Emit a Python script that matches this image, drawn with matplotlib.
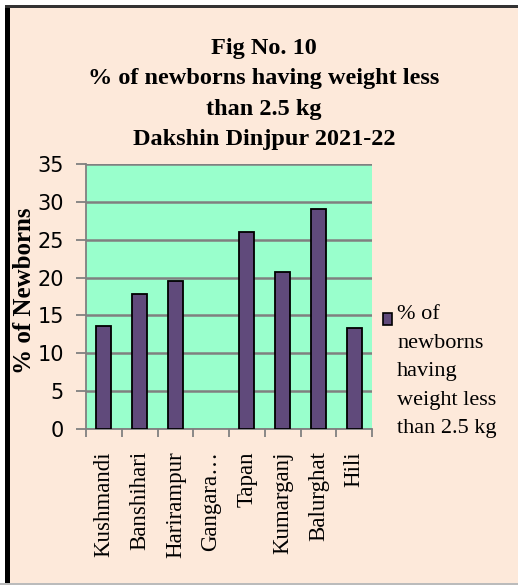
import matplotlib.pyplot as plt
from matplotlib.patches import Rectangle

blocks = ["Kushmandi", "Banshihari", "Harirampur", "Gangara\u2026", "Tapan",
          "Kumarganj", "Balurghat", "Hili"]
pct_low_weight = [13.6, 17.8, 19.5, 0, 26.0, 20.8, 29.0, 13.3]
series_name = "% of\nnewborns\nhaving\nweight less\nthan 2.5 kg"
title_text = "Fig No. 10\n% of newborns having weight less\nthan 2.5 kg\nDakshin Dinjpur 2021-22"

plt.rcParams['font.family'] = ['Liberation Serif', 'DejaVu Serif']

bar_color = "#604A7B"

fig = plt.figure(figsize=(5.18, 5.85), dpi=100)
fig.patch.set_facecolor("#FDE9DA")

# frame lines around the picture
fig.patches.append(Rectangle((0.0, 0.0), 0.0193, 1.0, transform=fig.transFigure,
                             facecolor="white", edgecolor="none", zorder=0))
fig.patches.append(Rectangle((0.0097, 0.0), 0.0097, 0.991, transform=fig.transFigure,
                             facecolor="black", edgecolor="none", zorder=1))
fig.patches.append(Rectangle((0.0, 0.988), 1.0, 0.012, transform=fig.transFigure,
                             facecolor="white", edgecolor="none", zorder=0))
fig.patches.append(Rectangle((0.0097, 0.987), 0.9903, 0.004, transform=fig.transFigure,
                             facecolor="#333333", edgecolor="none", zorder=1))
fig.patches.append(Rectangle((0.0, 0.0), 1.0, 0.004, transform=fig.transFigure,
                             facecolor="#BBBBBB", edgecolor="none", zorder=1))

ax = fig.add_axes([86/518, 1 - 429/585, (372 - 86)/518, (429 - 164)/585])
ax.set_facecolor("#99FFCC")

x = range(len(blocks))
edges = ["black" if v > 0 else "none" for v in pct_low_weight]
bars = ax.bar(x, pct_low_weight, width=0.42, color=bar_color, edgecolor=edges,
              linewidth=1.3, zorder=3)

ax.set_ylim(0, 35)
ax.set_xlim(-0.5, len(blocks) - 0.5)
ax.set_yticks(range(0, 36, 5))
ax.yaxis.grid(True, color="#808080", linewidth=1.8, zorder=1)
ax.set_axisbelow(True)

ax.set_xticks([i - 0.5 for i in range(len(blocks) + 1)], minor=False)
ax.set_xticklabels([])
ax.set_xticks(list(x), minor=True)
ax.set_xticklabels(blocks, minor=True, rotation=90, fontsize=16.5, va="top")
ax.tick_params(axis="x", which="minor", length=0, pad=16)
ax.tick_params(axis="x", which="major", length=6, color="#808080", width=1.3)
ax.tick_params(axis="y", length=7, color="#808080", width=1.3, pad=9)
for lab in ax.get_yticklabels():
    lab.set_fontfamily("DejaVu Sans")
    lab.set_fontsize(15)

for side in ["top", "right"]:
    ax.spines[side].set_visible(False)
ax.spines["left"].set_color("#808080")
ax.spines["bottom"].set_color("#808080")
ax.spines["left"].set_linewidth(1.3)
ax.spines["bottom"].set_linewidth(1.3)

ax.set_ylabel("% of Newborns", fontsize=18, fontweight="bold")
ax.yaxis.set_label_coords(-(86 - 36)/286, 0.52)

fig.text(0.51, 1 - 150/585, title_text, ha="center", va="bottom", fontsize=17.5,
         fontweight="bold", linespacing=1.58)

# legend drawn by hand so the key sits beside the first line
fig.patches.append(Rectangle((383/518, 1 - 325/585), 9/518, 12/585,
                             transform=fig.transFigure, facecolor=bar_color,
                             edgecolor="black", linewidth=1.2, zorder=3))
fig.text(397/518, 1 - 305/585, series_name, ha="left", va="top", fontsize=16,
         linespacing=1.68)

fig.savefig("out.png", dpi=100, facecolor=fig.get_facecolor())
